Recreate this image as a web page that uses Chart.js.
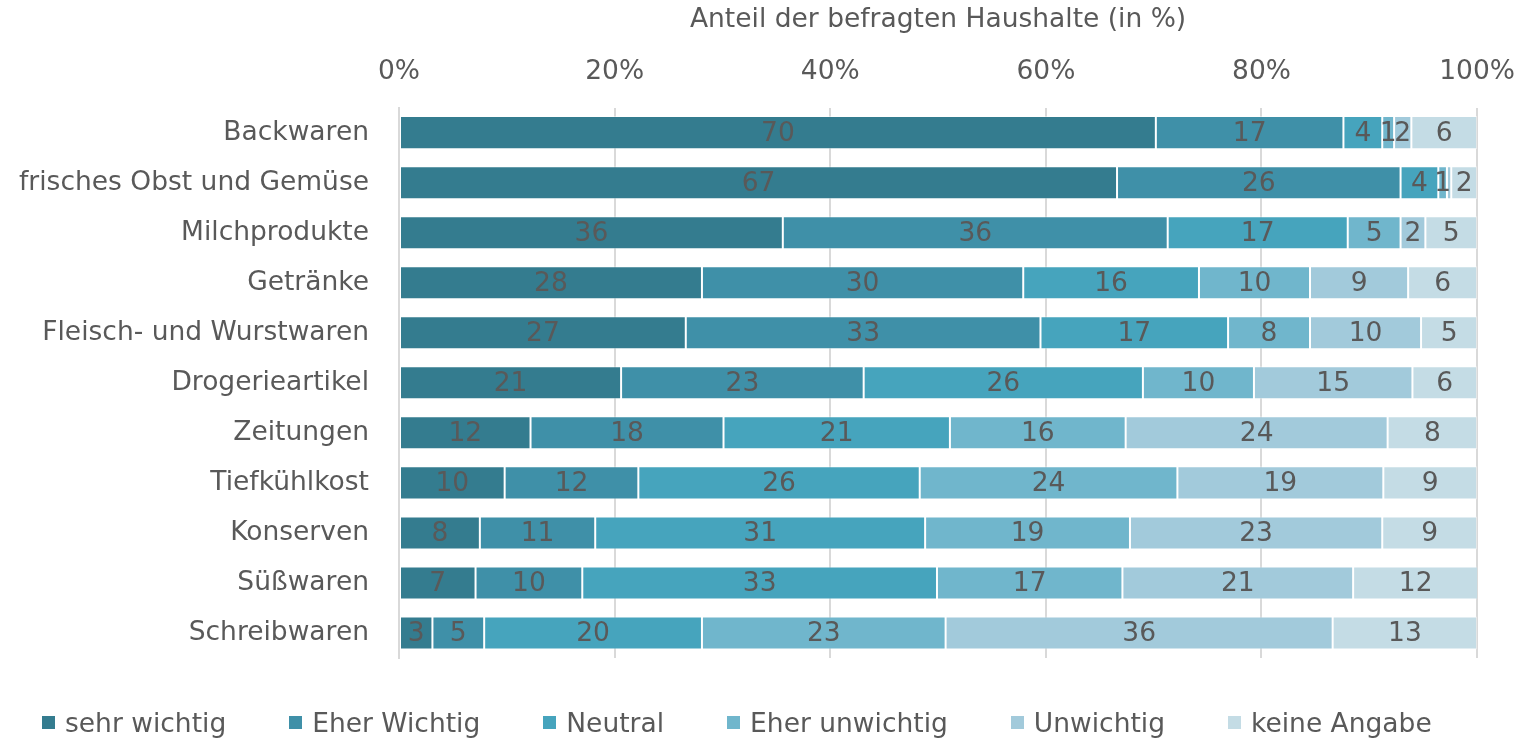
<!DOCTYPE html>
<html>
<head>
<meta charset="utf-8">
<script src="https://cdn.jsdelivr.net/npm/chart.js@4/dist/chart.umd.min.js"></script>
<style>
  body { margin: 0; background: #fff; }
  #wrap { width: 1535px; height: 739px; position: relative; }
  #legende {
    position: absolute; left: 42px; top: 705px; height: 34px;
    display: flex; align-items: center; gap: 63px;
    font-family: 'DejaVu Sans', sans-serif; font-size: 26.5px; color: #595959;
    white-space: nowrap;
  }
  #legende span.item { display: flex; align-items: center; }
  #legende span.box { width: 13px; height: 13px; margin-right: 10px; display: inline-block; }
</style>
</head>
<body>
<div id="wrap"><canvas id="chart"></canvas><div id="legende"></div></div>
<script>
var kategorien = ["Backwaren", "frisches Obst und Gemüse", "Milchprodukte", "Getränke",
  "Fleisch- und Wurstwaren", "Drogerieartikel", "Zeitungen", "Tiefkühlkost",
  "Konserven", "Süßwaren", "Schreibwaren"];

var sehrWichtig    = [70.2, 66.6, 35.6, 28.1, 26.6, 20.6, 12.2,  9.8,  7.5,  7.1,  3.1];
var eherWichtig    = [17.4, 26.3, 35.7, 29.8, 32.9, 22.5, 17.9, 12.4, 10.7,  9.9,  4.8];
var neutral        = [ 3.6,  3.5, 16.7, 16.3, 17.4, 25.9, 21.0, 26.1, 30.6, 32.9, 20.2];
var eherUnwichtig  = [ 1.1,  0.8,  4.9, 10.3,  7.6, 10.3, 16.3, 23.9, 19.0, 17.2, 22.6];
var unwichtig      = [ 1.6,  0.4,  2.3,  9.1, 10.3, 14.7, 24.3, 19.1, 23.4, 21.4, 35.9];
var keineAngabe    = [ 6.1,  2.4,  4.8,  6.4,  5.2,  6.0,  8.3,  8.7,  8.8, 11.6, 13.4];

var serienNamen = ["sehr wichtig", "Eher Wichtig", "Neutral", "Eher unwichtig", "Unwichtig", "keine Angabe"];
var farben = ["#347c8f", "#3f90a8", "#46a4bd", "#70b6cc", "#a2cadb", "#c4dce5"];

var xTicks = [0, 20, 40, 60, 80, 100];

var grau = "#595959";
var schrift = "'DejaVu Sans', sans-serif";
var groesse = 26.5;

// Werte mittig in die Balken schreiben
var wertePlugin = {
  id: "werte",
  afterDatasetsDraw: function (chart) {
    var ctx = chart.ctx;
    ctx.save();
    ctx.font = groesse + "px " + schrift;
    ctx.fillStyle = grau;
    ctx.textAlign = "center";
    ctx.textBaseline = "middle";
    chart.data.datasets.forEach(function (ds, i) {
      var meta = chart.getDatasetMeta(i);
      meta.data.forEach(function (bar, j) {
        var v = Math.round(ds.data[j]);
        if (v < 1) return;
        var mitte = (bar.x + bar.base) / 2;
        ctx.fillText(String(v), mitte, bar.y + 1);
      });
    });
    ctx.restore();
  }
};

function serie(i, daten) {
  return {
    label: serienNamen[i],
    data: daten,
    backgroundColor: farben[i],
    borderColor: "rgba(255,255,255,0.45)",
    borderWidth: 1,
    borderSkipped: false,
    barPercentage: 0.66,
    categoryPercentage: 1
  };
}

var chart = new Chart(document.getElementById("chart"), {
  type: "bar",
  data: {
    labels: kategorien,
    datasets: [
      serie(0, sehrWichtig),
      serie(1, eherWichtig),
      serie(2, neutral),
      serie(3, eherUnwichtig),
      serie(4, unwichtig),
      serie(5, keineAngabe)
    ]
  },
  options: {
    indexAxis: "y",
    responsive: true,
    maintainAspectRatio: false,
    animation: false,
    layout: { padding: { left: 0, right: 57, top: 4, bottom: 81 } },
    scales: {
      x: {
        position: "top",
        stacked: true,
        min: 0,
        max: 100,
        afterBuildTicks: function (axis) {
          axis.ticks = xTicks.map(function (v) { return { value: v }; });
        },
        grid: { color: "#d9d9d9", lineWidth: 2, drawTicks: false },
        border: { display: false },
        ticks: {
          color: grau,
          font: { family: schrift, size: groesse },
          padding: 20,
          callback: function (v) { return v + "%"; }
        },
        title: {
          display: true,
          text: "Anteil der befragten Haushalte (in %)",
          color: grau,
          font: { family: schrift, size: groesse },
          padding: { top: 0, bottom: 0 }
        }
      },
      y: {
        stacked: true,
        afterFit: function (axis) { axis.width = 399; },
        grid: { display: false, drawTicks: false },
        border: { display: true, color: "#d9d9d9", width: 2 },
        ticks: {
          color: grau,
          font: { family: schrift, size: groesse },
          padding: 30
        }
      }
    },
    plugins: {
      legend: { display: false },
      tooltip: { enabled: false }
    }
  },
  plugins: [wertePlugin]
});

// Legende als HTML unter dem Diagramm
var legende = document.getElementById("legende");
chart.data.datasets.forEach(function (ds) {
  var item = document.createElement("span");
  item.className = "item";
  var box = document.createElement("span");
  box.className = "box";
  box.style.background = ds.backgroundColor;
  item.appendChild(box);
  item.appendChild(document.createTextNode(ds.label));
  legende.appendChild(item);
});
</script>
</body>
</html>
